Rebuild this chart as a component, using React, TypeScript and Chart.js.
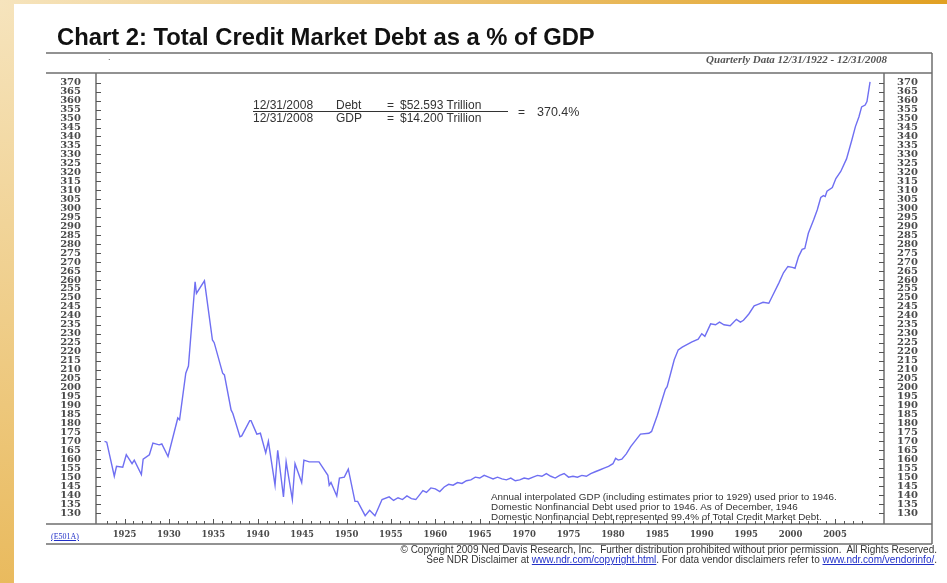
import React, { useEffect, useRef } from "react";
import { Chart, registerables } from "chart.js";

Chart.register(...registerables);

// ---- Data ----
const years: number[] = [
  1922.75, 1923.0, 1923.85, 1924.1, 1924.8, 1925.2, 1925.85, 1926.1, 1926.9, 1927.1,
  1927.8, 1928.2, 1928.9, 1929.2, 1929.9, 1931.0, 1931.2, 1931.9, 1932.2, 1932.95,
  1933.1, 1934.0, 1934.9, 1935.1, 1936.05, 1936.25, 1937.0, 1937.2, 1938.0, 1938.2,
  1939.1, 1939.25, 1939.9, 1940.3, 1940.9, 1941.2, 1941.95, 1942.25, 1942.9, 1943.2,
  1943.9, 1944.2, 1944.95, 1945.2, 1945.8, 1946.9, 1947.9, 1948.05, 1948.25, 1948.9,
  1949.2, 1949.75, 1950.2, 1950.95, 1951.25, 1952.1, 1952.6, 1953.2, 1954.0, 1954.8,
  1955.3, 1955.8, 1956.3, 1956.8, 1957.3, 1957.8, 1958.2, 1958.6, 1959.0, 1959.5,
  1960.0, 1960.5, 1961.0, 1961.5, 1962.0, 1962.5, 1963.0, 1963.5, 1964.0, 1964.5,
  1965.0, 1965.5, 1966.0, 1966.5, 1967.0, 1967.5, 1968.0, 1968.5, 1969.0, 1969.5,
  1970.0, 1970.5, 1971.0, 1971.5, 1972.0, 1972.5, 1973.0, 1973.5, 1974.0, 1974.5,
  1975.0, 1975.5, 1976.0, 1976.5, 1977.0, 1977.5, 1978.0, 1978.5, 1979.0, 1979.5,
  1980.0, 1980.3, 1980.6, 1981.0, 1981.5, 1982.0, 1982.7, 1983.1, 1984.05, 1984.35,
  1985.0, 1985.9, 1986.1, 1986.9, 1987.35, 1987.8, 1988.9, 1989.6, 1990.0, 1990.35,
  1991.0, 1991.55, 1992.0, 1992.5, 1993.2, 1993.9, 1994.35, 1994.7, 1995.3, 1995.9,
  1996.4, 1996.9, 1997.55, 1997.9, 1998.7, 1999.2, 1999.7, 2000.2, 2000.5, 2000.9,
  2001.3, 2001.6, 2002.0, 2002.6, 2003.0, 2003.4, 2003.7, 2003.9, 2004.1, 2004.7,
  2005.1, 2005.65, 2006.3, 2006.9, 2007.3, 2007.7, 2008.0, 2008.4, 2008.6, 2008.95,
];

const debtPct: number[] = [
  170, 169.5, 150.5, 156, 155.5, 162.5, 157.5, 159.5, 151.5, 160,
  162.5, 169, 168, 168.5, 161.5, 183, 182, 208, 212, 259,
  252.5, 259.5, 226.5, 225, 208, 207, 187.5, 185.5, 172.5, 173,
  181.5, 181.5, 174, 174.5, 163.5, 170, 145.5, 165, 139, 158.5,
  137.5, 157.5, 147, 159.5, 158.5, 158.5, 151, 145.5, 147, 139.5,
  149.5, 150, 154.5, 136.5, 136.5, 128.5, 131.5, 128.5, 137.5, 139,
  137, 138.5, 137.5, 139.5, 138, 137.5, 140, 142.5, 141.5, 144,
  143.5, 142, 144.5, 146, 145.5, 147, 146.5, 148, 148.5, 150,
  149.5, 151, 150, 149, 150, 149, 148.5, 149.5, 148, 148.5,
  149.5, 149, 150, 151, 150.5, 152, 150.5, 149.5, 151, 152,
  150, 150.5, 150, 151, 150.5, 152, 153, 154, 155, 156,
  157.5, 160.5, 159.5, 160, 163, 167, 171.5, 174, 174.5, 175.5,
  184.5, 199, 200.5, 215.5, 221, 222.5, 225.5, 227, 230, 228.5,
  235.5, 235, 236.5, 235, 234.5, 238, 236.5, 237.5, 241, 245.5,
  246.5, 247.5, 247, 250.5, 258.5, 264, 267.5, 267, 266.5, 273,
  277, 277.5, 286, 293.5, 299, 306, 307, 306.5, 309.5, 311.5,
  316.5, 320.5, 327.5, 338, 345.5, 351, 356.5, 357.5, 359.5, 370.4,
];

const yTicks: number[] = [
  130, 135, 140, 145, 150, 155, 160, 165, 170, 175, 180, 185, 190, 195, 200, 205, 210,
  215, 220, 225, 230, 235, 240, 245, 250, 255, 260, 265, 270, 275, 280, 285, 290, 295,
  300, 305, 310, 315, 320, 325, 330, 335, 340, 345, 350, 355, 360, 365, 370,
];

const xLabelYears: number[] = [
  1925, 1930, 1935, 1940, 1945, 1950, 1955, 1960, 1965, 1970, 1975, 1980, 1985, 1990,
  1995, 2000, 2005,
];

const firstTickYear = 1923;
const lastTickYear = 2008;

const X_MIN = 1921.79;
const X_MAX = 2010.52;
const Y_MIN = 123.87;
const Y_MAX = 375.4;

const W = 947;
const H = 583;

const frameLeft = 46;
const frameRight = 932;
const frameTop = 53;
const frameBottom = 544;

const framePlugin = {
  id: "ndrFrame",
  afterDraw(chart: any) {
    const { ctx, chartArea: a, scales } = chart;
    const line = (x1: number, y1: number, x2: number, y2: number) => {
      ctx.beginPath();
      ctx.moveTo(x1, y1);
      ctx.lineTo(x2, y2);
      ctx.stroke();
    };
    ctx.save();
    ctx.strokeStyle = "#6e6e6e";
    ctx.lineWidth = 1.5;
    line(frameLeft, frameTop, frameRight, frameTop);
    line(frameLeft, a.top, frameRight, a.top);
    line(frameLeft, a.bottom, frameRight, a.bottom);
    line(frameLeft, frameBottom, frameRight, frameBottom);
    line(a.left, a.top, a.left, a.bottom);
    line(a.right, a.top, a.right, a.bottom);
    line(frameRight, frameTop, frameRight, frameBottom);

    ctx.strokeStyle = "#555";
    ctx.lineWidth = 1;
    for (const v of yTicks) {
      const py = Math.round(scales.y.getPixelForValue(v)) + 0.5;
      line(a.left, py, a.left + 5, py);
      line(a.right - 5, py, a.right, py);
    }
    for (let yr = firstTickYear; yr <= lastTickYear; yr++) {
      const px = Math.round(scales.x.getPixelForValue(yr)) + 0.5;
      const len = yr % 5 === 0 ? 5 : 3;
      line(px, a.bottom, px, a.bottom - len);
    }
    ctx.restore();
  },
};

const serifTick = { family: "'DejaVu Serif', serif", size: 10, weight: "bold" as const };

export default function App() {
  const canvasRef = useRef<HTMLCanvasElement | null>(null);

  useEffect(() => {
    if (!canvasRef.current) return;
    const points = years.map((x, i) => ({ x, y: debtPct[i] }));
    const chart = new Chart(canvasRef.current, {
      type: "line",
      data: {
        datasets: [
          {
            data: points,
            borderColor: "#6f6ff2",
            borderWidth: 1.4,
            pointRadius: 0,
            tension: 0,
            fill: false,
            yAxisID: "y",
          },
        ],
      },
      options: {
        animation: false,
        responsive: false,
        events: [],
        layout: { padding: { left: frameLeft, right: W - frameRight, top: 73, bottom: H - frameBottom } },
        plugins: { legend: { display: false }, tooltip: { enabled: false }, title: { display: false } },
        scales: {
          x: {
            type: "linear",
            min: X_MIN,
            max: X_MAX,
            position: "bottom",
            grid: { display: false, drawTicks: false },
            border: { display: false },
            afterBuildTicks: (s: any) => {
              s.ticks = xLabelYears.map((v) => ({ value: v }));
            },
            afterFit: (s: any) => {
              s.height = frameBottom - 524;
            },
            ticks: {
              autoSkip: false,
              maxRotation: 0,
              padding: 6,
              color: "#4a4a4a",
              font: { family: "'DejaVu Serif', serif", size: 8.5, weight: "bold" },
              callback: (v: any) => String(v),
            },
          },
          y: {
            type: "linear",
            min: Y_MIN,
            max: Y_MAX,
            position: "left",
            grid: { display: false, drawTicks: false },
            border: { display: false },
            afterBuildTicks: (s: any) => {
              s.ticks = yTicks.map((v) => ({ value: v }));
            },
            afterFit: (s: any) => {
              s.width = 50;
            },
            ticks: {
              autoSkip: false,
              padding: 15,
              color: "#4a4a4a",
              font: serifTick,
              callback: (v: any) => String(v),
            },
          },
          y2: {
            type: "linear",
            min: Y_MIN,
            max: Y_MAX,
            position: "right",
            grid: { display: false, drawTicks: false },
            border: { display: false },
            afterBuildTicks: (s: any) => {
              s.ticks = yTicks.map((v) => ({ value: v }));
            },
            afterFit: (s: any) => {
              s.width = 48;
            },
            ticks: {
              autoSkip: false,
              padding: 13,
              color: "#4a4a4a",
              font: serifTick,
              callback: (v: any) => String(v),
            },
          },
        },
      },
      plugins: [framePlugin],
    } as any);
    return () => chart.destroy();
  }, []);

  const sans = "'Liberation Sans', Arial, sans-serif";
  const abs = (l: number, t: number, extra: React.CSSProperties = {}): React.CSSProperties => ({
    position: "absolute",
    left: l,
    top: t,
    whiteSpace: "pre",
    ...extra,
  });
  const annFont: React.CSSProperties = { fontFamily: sans, fontSize: 12, lineHeight: "12px", color: "#333" };
  const noteFont: React.CSSProperties = { fontFamily: sans, fontSize: 9.9, lineHeight: "10px", color: "#333" };
  const footFont: React.CSSProperties = { fontFamily: sans, fontSize: 10, lineHeight: "10px", color: "#333" };
  const link: React.CSSProperties = { color: "#2230c8", textDecoration: "underline" };

  return (
    <div
      style={{
        position: "fixed",
        left: 0,
        top: 0,
        width: W,
        height: H,
        overflow: "hidden",
        background: "radial-gradient(circle 950px at 0 0, #f6e4bd 0%, #e1a022 100%)",
      }}
    >
      <div style={{ position: "absolute", left: 14, top: 4, right: 0, bottom: 0, background: "#fff" }} />
      <canvas
        ref={canvasRef}
        width={W}
        height={H}
        style={{ position: "absolute", left: 0, top: 0, width: W, height: H }}
      />
      <div style={abs(57, 25, { fontFamily: sans, fontWeight: "bold", fontSize: 23.8, lineHeight: "24px", color: "#111" })}>
        Chart 2: Total Credit Market Debt as a % of GDP
      </div>
      <div style={abs(108, 52, { fontFamily: sans, fontSize: 9, color: "#555" })}>.</div>
      <div
        style={{
          position: "absolute",
          right: W - 887,
          top: 53,
          whiteSpace: "pre",
          fontFamily: "'Liberation Serif', serif",
          fontStyle: "italic",
          fontWeight: "bold",
          fontSize: 11,
          lineHeight: "12px",
          color: "#555",
        }}
      >
        Quarterly Data 12/31/1922 - 12/31/2008
      </div>

      {/* Ratio annotation */}
      <div style={abs(253, 99, annFont)}>12/31/2008</div>
      <div style={abs(336, 99, annFont)}>Debt</div>
      <div style={abs(387, 99, annFont)}>=</div>
      <div style={abs(400, 99, annFont)}>$52.593 Trillion</div>
      <div style={{ position: "absolute", left: 253, top: 111, width: 255, height: 1, background: "#333" }} />
      <div style={abs(253, 112, annFont)}>12/31/2008</div>
      <div style={abs(336, 112, annFont)}>GDP</div>
      <div style={abs(387, 112, annFont)}>=</div>
      <div style={abs(400, 112, annFont)}>$14.200 Trillion</div>
      <div style={abs(518, 106, annFont)}>=</div>
      <div style={abs(537, 106, { ...annFont, fontSize: 12.5 })}>370.4%</div>

      {/* Notes */}
      <div style={abs(491, 492, noteFont)}>
        {"Annual interpolated GDP (including estimates prior to 1929) used prior to 1946.\nDomestic Nonfinancial Debt used prior to 1946. As of December, 1946\nDomestic Nonfinancial Debt represented 99.4% of Total Credit Market Debt."}
      </div>

      <div style={abs(51, 532, { fontFamily: "'Liberation Serif', serif", fontSize: 8, lineHeight: "10px", ...link })}>
        (E501A)
      </div>

      {/* Footer */}
      <div
        style={{
          position: "absolute",
          right: W - 937,
          top: 545,
          textAlign: "right",
          whiteSpace: "pre",
          ...footFont,
        }}
      >
        <div>© Copyright 2009 Ned Davis Research, Inc.  Further distribution prohibited without prior permission.  All Rights Reserved.</div>
        <div>
          {"See NDR Disclaimer at "}
          <span style={link}>www.ndr.com/copyright.html</span>
          {". For data vendor disclaimers refer to "}
          <span style={link}>www.ndr.com/vendorinfo/</span>
          {"."}
        </div>
      </div>
    </div>
  );
}
